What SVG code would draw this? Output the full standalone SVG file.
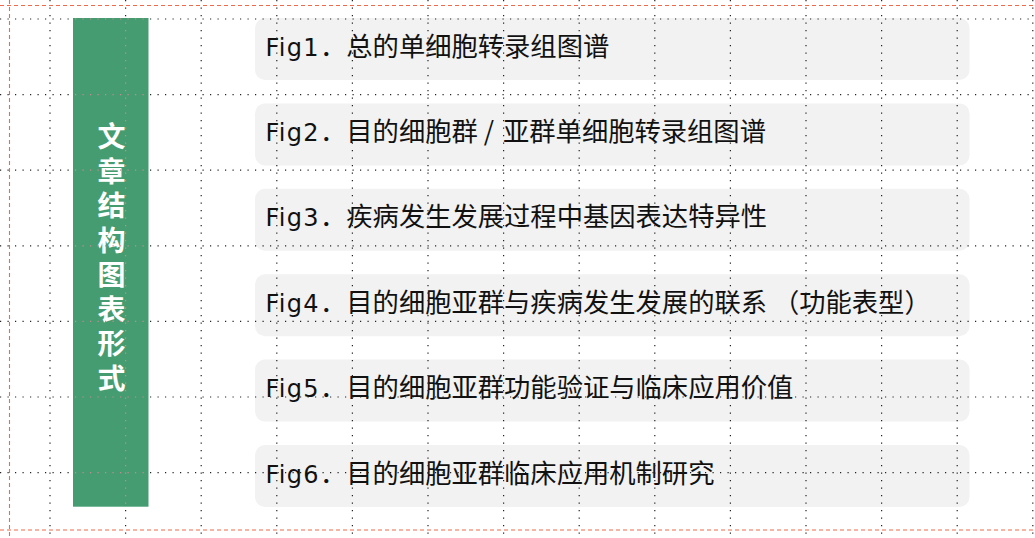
<svg xmlns="http://www.w3.org/2000/svg" xmlns:xlink="http://www.w3.org/1999/xlink" width="1035" height="538" viewBox="0 0 1035 538">
<style>
.box{fill:#f2f2f2}
.lbl{font-family:"Noto Sans CJK SC","Liberation Sans",sans-serif;font-size:26.3px;fill:#111}
.fig{font-family:"DejaVu Sans","Liberation Sans",sans-serif;font-size:24px;letter-spacing:1.3px}
.side{font-family:"Noto Sans CJK SC",sans-serif;font-size:28px;font-weight:700;fill:#fff;text-anchor:middle;writing-mode:vertical-rl;letter-spacing:6.5px}
.red{stroke:#ee6a4a;stroke-width:1.1;stroke-dasharray:4 3;fill:none}
</style>
<defs>
<g id="gl" fill="none" stroke-width="1.2" stroke-dasharray="1.2 6.3">
<line x1="50" y1="0" x2="50" y2="538"/>
<line x1="125.6" y1="0" x2="125.6" y2="538"/>
<line x1="201.2" y1="0" x2="201.2" y2="538"/>
<line x1="276.8" y1="0" x2="276.8" y2="538"/>
<line x1="352.4" y1="0" x2="352.4" y2="538"/>
<line x1="428" y1="0" x2="428" y2="538"/>
<line x1="503.6" y1="0" x2="503.6" y2="538"/>
<line x1="579.2" y1="0" x2="579.2" y2="538"/>
<line x1="654.8" y1="0" x2="654.8" y2="538"/>
<line x1="730.4" y1="0" x2="730.4" y2="538"/>
<line x1="806" y1="0" x2="806" y2="538"/>
<line x1="881.6" y1="0" x2="881.6" y2="538"/>
<line x1="957.2" y1="0" x2="957.2" y2="538"/>
<line x1="1032.8" y1="0" x2="1032.8" y2="538"/>
<line x1="0" y1="19" x2="1035" y2="19"/>
<line x1="0" y1="94.6" x2="1035" y2="94.6"/>
<line x1="0" y1="170.2" x2="1035" y2="170.2"/>
<line x1="0" y1="245.8" x2="1035" y2="245.8"/>
<line x1="0" y1="321.4" x2="1035" y2="321.4"/>
<line x1="0" y1="397" x2="1035" y2="397"/>
<line x1="0" y1="472.6" x2="1035" y2="472.6"/>
</g>
<clipPath id="inbar"><rect x="73" y="18" width="75.5" height="488.7"/></clipPath>
<clipPath id="outbar"><path clip-rule="evenodd" d="M0 0H1035V538H0Z M73 18V506.7H148.5V18Z"/></clipPath>
</defs>
<rect width="1035" height="538" fill="#fff"/>

<g id="side-bar">
<rect x="73" y="18" width="75.5" height="488.7" fill="#469c71"/>
<text class="side" x="111.5" y="260.5">文章结构图表形式</text>
</g>

<g id="fig1">
<rect class="box" x="255" y="18" width="714.5" height="62" rx="10"/>
<text class="lbl" y="55.5"><tspan class="fig" x="265.5">Fig1</tspan><tspan x="320">．总的单细胞转录组图谱</tspan></text>
</g>
<g id="fig2">
<rect class="box" x="255" y="103.4" width="714.5" height="62" rx="10"/>
<text class="lbl" y="140.9"><tspan class="fig" x="265.5">Fig2</tspan><tspan x="320">．目的细胞群 / </tspan><tspan x="503">亚群单细胞转录组图谱</tspan></text>
</g>
<g id="fig3">
<rect class="box" x="255" y="188.8" width="714.5" height="62" rx="10"/>
<text class="lbl" y="226.3"><tspan class="fig" x="265.5">Fig3</tspan><tspan x="320">．疾病发生发展过程中基因表达特异性</tspan></text>
</g>
<g id="fig4">
<rect class="box" x="255" y="274.2" width="714.5" height="62" rx="10"/>
<text class="lbl" y="311.7"><tspan class="fig" x="265.5">Fig4</tspan><tspan x="320">．目的细胞亚群与疾病发生发展的联系 （功能表型）</tspan></text>
</g>
<g id="fig5">
<rect class="box" x="255" y="359.6" width="714.5" height="62" rx="10"/>
<text class="lbl" y="397.1"><tspan class="fig" x="265.5">Fig5</tspan><tspan x="320">．目的细胞亚群功能验证与临床应用价值</tspan></text>
</g>
<g id="fig6">
<rect class="box" x="255" y="445" width="714.5" height="62" rx="10"/>
<text class="lbl" y="482.5"><tspan class="fig" x="265.5">Fig6</tspan><tspan x="320">．目的细胞亚群临床应用机制研究</tspan></text>
</g>

<g id="guides">
<use xlink:href="#gl" href="#gl" stroke="#222" clip-path="url(#outbar)"/>
<use xlink:href="#gl" href="#gl" stroke="#c98a8f" clip-path="url(#inbar)"/>
<line class="red" x1="0" y1="5.5" x2="1035" y2="5.5"/>
<line class="red" x1="9.5" y1="0" x2="9.5" y2="538"/>
<line class="red" x1="0" y1="530" x2="1035" y2="530"/>
</g>
</svg>
